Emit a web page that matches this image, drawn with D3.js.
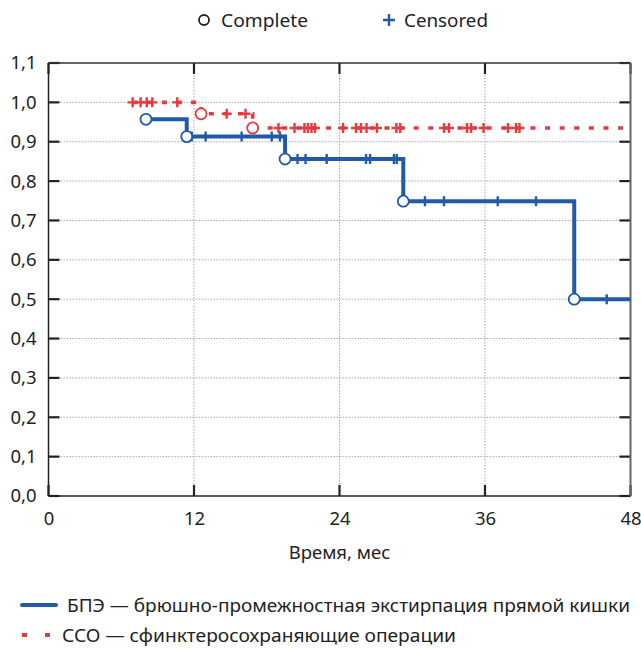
<!DOCTYPE html>
<html>
<head>
<meta charset="utf-8">
<script src="https://cdn.jsdelivr.net/npm/d3@7"></script>
<style>
  html, body { margin: 0; padding: 0; background: #fff; }
  svg { display: block; font-family: "Noto Sans", "Open Sans", sans-serif; }
</style>
</head>
<body>
<svg id="chart" width="641" height="649"></svg>
<script>
// ---------- data ----------
const xTicks = [0, 12, 24, 36, 48];
const yTicks = [0, 0.1, 0.2, 0.3, 0.4, 0.5, 0.6, 0.7, 0.8, 0.9, 1.0, 1.1];

// БПЭ (blue, solid)
const bpeEventTimes = [8.04, 11.4, 19.51, 29.26, 43.36];
const bpeSurvival   = [0.957, 0.913, 0.856, 0.749, 0.5];
const bpeCensorTimes = [11.81, 12.96, 15.93, 18.41, 19.09, 20.54, 21.2, 22.94, 26.19, 26.52,
                        28.49, 28.72, 31.05, 32.62, 37.05, 40.21, 46.04];

// ССО (red, dotted)
const ssoEventTimes = [12.58, 16.84];
const ssoSurvival   = [0.971, 0.935];
const ssoCensorTimes = [6.94, 7.6, 8.1, 8.56, 10.62, 14.7, 16.25, 18.97, 20.29, 21.11, 21.4,
                        21.69, 21.98, 24.29, 25.36, 25.77, 26.23, 27.09, 28.7, 29.0, 32.62,
                        33.03, 34.52, 34.85, 35.88, 37.9, 38.56, 38.85];

const seriesNames = ["БПЭ — брюшно-промежностная экстирпация прямой кишки",
                     "ССО — сфинктеросохраняющие операции"];
const legendTop = ["Complete", "Censored"];
const xTitle = "Время, мес";
const maxTime = 48;

// ---------- layout ----------
const BLUE = "#1f5ba8", RED = "#e8393f", INK = "#222";
const svg = d3.select("#chart");
const pL = 48.5, pR = 630.5, pT = 63, pB = 496;
const x = d3.scaleLinear().domain([0, 48]).range([pL, pR]);
const y = d3.scaleLinear().domain([0, 1.1]).range([pB, pT]);
const fmt = v => d3.format(".1f")(v).replace(".", ",");

// grid
const grid = svg.append("g").attr("stroke", "#a8a8a8").attr("stroke-width", 1)
  .attr("stroke-dasharray", "1.5,1.5");
grid.selectAll("line.h").data(yTicks.filter(v => v > 0 && v < 1.05)).join("line")
  .attr("x1", pL).attr("x2", pR).attr("y1", d => y(d)).attr("y2", d => y(d));
grid.selectAll("line.v").data(xTicks.filter(v => v > 0 && v < 48)).join("line")
  .attr("y1", pT).attr("y2", pB).attr("x1", d => x(d)).attr("x2", d => x(d));

// axes
const fontSize = 18.5;
const ax = svg.append("g").attr("transform", `translate(0,${pB})`)
  .call(d3.axisBottom(x).tickValues(xTicks).tickSize(0).tickPadding(16));
const ay = svg.append("g").attr("transform", `translate(${pL},0)`)
  .call(d3.axisLeft(y).tickValues(yTicks).tickFormat(fmt).tickSize(0).tickPadding(12));
[ax, ay].forEach(g => {
  g.select(".domain").remove();
  g.selectAll("text").attr("font-size", fontSize).attr("fill", INK)
    .attr("font-family", "'Noto Sans', sans-serif");
});

// inner tick marks on all four sides
const tk = svg.append("g").attr("stroke", INK).attr("stroke-width", 2.2);
const tl = 11;
tk.selectAll("line.l").data(yTicks).join("line")
  .attr("x1", pL).attr("x2", pL + tl).attr("y1", d => y(d)).attr("y2", d => y(d));
tk.selectAll("line.r").data(yTicks).join("line")
  .attr("x1", pR - tl).attr("x2", pR).attr("y1", d => y(d)).attr("y2", d => y(d));
tk.selectAll("line.b").data(xTicks).join("line")
  .attr("x1", d => x(d)).attr("x2", d => x(d)).attr("y1", pB).attr("y2", pB - tl);
tk.selectAll("line.t").data(xTicks).join("line")
  .attr("x1", d => x(d)).attr("x2", d => x(d)).attr("y1", pT).attr("y2", pT + tl);

// frame
svg.append("line").attr("x1", pL).attr("x2", pR).attr("y1", pT).attr("y2", pT)
  .attr("stroke", "#333").attr("stroke-width", 1.5);
svg.append("line").attr("x1", pL).attr("x2", pR).attr("y1", pB).attr("y2", pB)
  .attr("stroke", "#222").attr("stroke-width", 1.5);
svg.append("line").attr("x1", pL).attr("x2", pL).attr("y1", pT).attr("y2", pB)
  .attr("stroke", "#222").attr("stroke-width", 1.5);
svg.append("line").attr("x1", pR).attr("x2", pR).attr("y1", pT).attr("y2", pB)
  .attr("stroke", "#666").attr("stroke-width", 2);

// ---------- KM curves ----------
function survAt(t, evT, evS) {
  let s = 1;
  evT.forEach((et, i) => { if (et <= t) s = evS[i]; });
  return s;
}
function stepPoints(evT, evS, cenT) {
  const t0 = Math.min(evT[0], d3.min(cenT));
  const pts = [[t0, survAt(t0, evT, evS)]];
  evT.forEach((t, i) => { if (t > t0) pts.push([t, evS[i]]); });
  pts.push([maxTime, evS[evS.length - 1]]);
  return pts;
}
const line = d3.line().x(d => x(d[0])).y(d => y(d[1])).curve(d3.curveStepAfter);

function drawSeries(evT, evS, cenT, color, dashed) {
  const g = svg.append("g");
  g.append("path").datum(stepPoints(evT, evS, cenT)).attr("d", line)
    .attr("fill", "none").attr("stroke", color)
    .attr("stroke-width", dashed ? 3.6 : 4)
    .attr("stroke-dasharray", dashed ? "5,9.6" : null)
    .attr("stroke-linejoin", "miter");
  // censor marks (+)
  g.selectAll("path.c").data(cenT).join("path")
    .attr("transform", d => `translate(${x(d)},${y(survAt(d, evT, evS))})`)
    .attr("d", "M-5,0H5M0,-5V5")
    .attr("stroke", color).attr("stroke-width", 2.4).attr("fill", "none");
  // events (o)
  g.selectAll("circle").data(evT).join("circle")
    .attr("cx", d => x(d)).attr("cy", (d, i) => y(evS[i])).attr("r", 5.5)
    .attr("fill", "#fff").attr("stroke", color).attr("stroke-width", 1.8);
}
drawSeries(bpeEventTimes, bpeSurvival, bpeCensorTimes, BLUE, false);
drawSeries(ssoEventTimes, ssoSurvival, ssoCensorTimes, RED, true);

// x title
svg.append("text").attr("x", (pL + pR) / 2).attr("y", 559)
  .attr("text-anchor", "middle").attr("font-size", fontSize).attr("fill", INK).text(xTitle);

// top legend
const tlg = svg.append("g");
tlg.append("circle").attr("cx", 204).attr("cy", 20).attr("r", 5)
  .attr("fill", "#fff").attr("stroke", INK).attr("stroke-width", 1.8);
tlg.append("text").attr("x", 221).attr("y", 26.5).attr("font-size", fontSize).attr("fill", INK)
  .attr("textLength", 87).attr("lengthAdjust", "spacingAndGlyphs").text(legendTop[0]);
tlg.append("path").attr("transform", "translate(389,20)").attr("d", "M-6,0H6M0,-6V6")
  .attr("stroke", BLUE).attr("stroke-width", 2.4);
tlg.append("text").attr("x", 404).attr("y", 26.5).attr("font-size", fontSize).attr("fill", INK)
  .attr("textLength", 84).attr("lengthAdjust", "spacingAndGlyphs").text(legendTop[1]);

// bottom legend
const blg = svg.append("g");
blg.append("line").attr("x1", 22).attr("x2", 56).attr("y1", 605).attr("y2", 605)
  .attr("stroke", BLUE).attr("stroke-width", 4).attr("stroke-linecap", "round");
blg.append("text").attr("x", 67).attr("y", 611.5).attr("font-size", fontSize).attr("fill", INK)
  .attr("textLength", 563).attr("lengthAdjust", "spacingAndGlyphs").text(seriesNames[0]);
blg.append("line").attr("x1", 22).attr("x2", 52).attr("y1", 635).attr("y2", 635)
  .attr("stroke", RED).attr("stroke-width", 4).attr("stroke-dasharray", "5,18");
blg.append("text").attr("x", 62).attr("y", 641.5).attr("font-size", fontSize).attr("fill", INK)
  .attr("textLength", 394).attr("lengthAdjust", "spacingAndGlyphs").text(seriesNames[1]);
</script>
</body>
</html>
